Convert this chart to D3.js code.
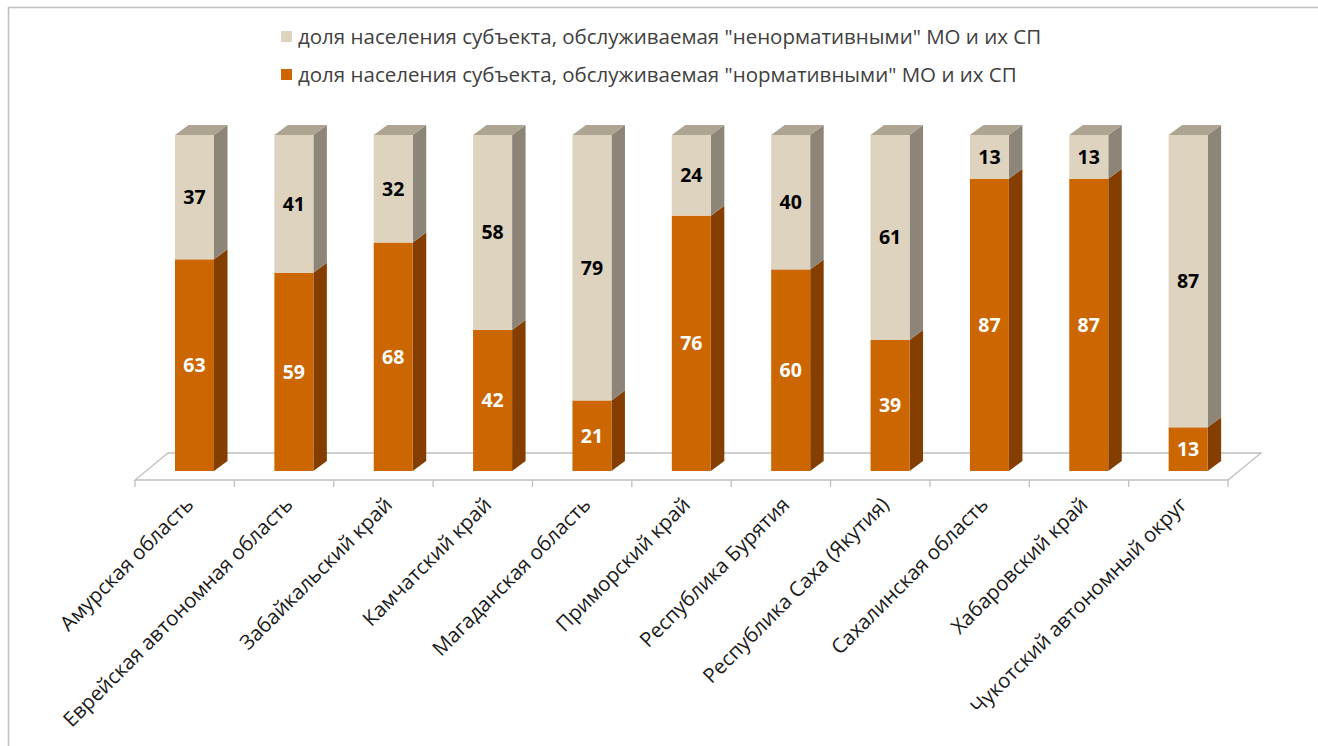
<!DOCTYPE html>
<html>
<head>
<meta charset="utf-8">
<script src="https://cdn.jsdelivr.net/npm/d3@7"></script>
<style>
  body { margin: 0; background: #fff; }
  #chart { width: 1318px; height: 746px; }
  text { font-family: "Open Sans", "Noto Sans", sans-serif; }
</style>
</head>
<body>
<div id="chart"></div>
<script>
// data
var regions = ["Амурская область", "Еврейская автономная область", "Забайкальский край",
  "Камчатский край", "Магаданская область", "Приморский край", "Республика Бурятия",
  "Республика Саха (Якутия)", "Сахалинская область", "Хабаровский край", "Чукотский автономный округ"];
var normative = [63, 59, 68, 42, 21, 76, 60, 39, 87, 87, 13];
var nonNormative = [37, 41, 32, 58, 79, 24, 40, 61, 13, 13, 87];
var legendLabels = [
  "доля населения субъекта, обслуживаемая \"ненормативными\" МО и их СП",
  "доля населения субъекта, обслуживаемая \"нормативными\" МО и их СП"
];

var svg = d3.select("#chart").append("svg")
    .attr("width", 1318)
    .attr("height", 746);

// outer frame (only top and left visible)
svg.append("path")
    .attr("d", "M8.5,746 L8.5,7.5 L1318,7.5")
    .attr("fill", "none")
    .attr("stroke", "#bfbfbf")
    .attr("stroke-width", 1.5);

var x = d3.scaleBand().domain(regions).range([135, 1228]);
var y = d3.scaleLinear().domain([0, 100]).range([471, 135]);

var bw = x.bandwidth();
var faceOff = 40, faceW = 39, dx = 13.5, dy = 10;

// floor
var floorY = 480, fdx = 33, fdy = 27;
var g = svg.append("g");
g.append("path")
    .attr("d", "M135," + floorY + " L1228," + floorY + " L" + (1228 + fdx) + "," + (floorY - fdy) +
      " L" + (135 + fdx) + "," + (floorY - fdy) + " Z")
    .attr("fill", "none")
    .attr("stroke", "#bfbfbf")
    .attr("stroke-width", 1.3);

// ticks on front edge
g.selectAll("line.tick")
  .data(d3.range(regions.length + 1))
  .enter().append("line")
    .attr("x1", function(i) { return 135 + i * bw; })
    .attr("x2", function(i) { return 135 + i * bw; })
    .attr("y1", floorY)
    .attr("y2", floorY + 7)
    .attr("stroke", "#bfbfbf")
    .attr("stroke-width", 1.3);

var series = [
  { values: normative, front: "#cc6600", side: "#843f00", top: "#a35200", text: "#fff" },
  { values: nonNormative, front: "#ddd3be", side: "#8c8578", top: "#ada592", text: "#000" }
];

var bars = svg.append("g");
regions.forEach(function(r, i) {
  var x0 = x(r) + faceOff;
  var base = 0;
  series.forEach(function(s, si) {
    var v = s.values[i];
    var yTop = y(base + v), yBot = y(base);
    // side face
    bars.append("path")
      .attr("d", "M" + (x0 + faceW) + "," + yBot + " L" + (x0 + faceW + dx) + "," + (yBot - dy) +
        " L" + (x0 + faceW + dx) + "," + (yTop - dy) + " L" + (x0 + faceW) + "," + yTop + " Z")
      .attr("fill", s.side);
    // front face
    bars.append("rect")
      .attr("x", x0).attr("y", yTop)
      .attr("width", faceW).attr("height", yBot - yTop)
      .attr("fill", s.front);
    // top face on the last segment
    if (si === series.length - 1) {
      bars.append("path")
        .attr("d", "M" + x0 + "," + yTop + " L" + (x0 + dx) + "," + (yTop - dy) +
          " L" + (x0 + faceW + dx) + "," + (yTop - dy) + " L" + (x0 + faceW) + "," + yTop + " Z")
        .attr("fill", s.top);
    }
    bars.append("text")
      .attr("x", x0 + faceW / 2)
      .attr("y", (yTop + yBot) / 2 + 7)
      .attr("text-anchor", "middle")
      .attr("font-size", 19.5)
      .attr("font-weight", "bold")
      .attr("fill", s.text)
      .text(v);
    base += v;
  });
});

// category labels
svg.append("g").selectAll("text")
  .data(regions)
  .enter().append("text")
    .attr("transform", function(d) {
      return "translate(" + (x(d) + bw / 2 + 10) + ",506) rotate(-45)";
    })
    .attr("text-anchor", "end")
    .attr("font-size", 20.5)
    .attr("fill", "#1a1a1a")
    .text(function(d) { return d; });

// legend
var legend = svg.append("g");
var legendColors = ["#ddd3be", "#cc6600"];
legendLabels.forEach(function(l, i) {
  var ly = 37 + i * 38;
  legend.append("rect")
    .attr("x", 281).attr("y", ly - 6)
    .attr("width", 11).attr("height", 11)
    .attr("fill", legendColors[i]);
  legend.append("text")
    .attr("x", 298).attr("y", ly + 7)
    .attr("font-size", 20.5)
    .attr("fill", "#404040")
    .text(l);
});
</script>
</body>
</html>
